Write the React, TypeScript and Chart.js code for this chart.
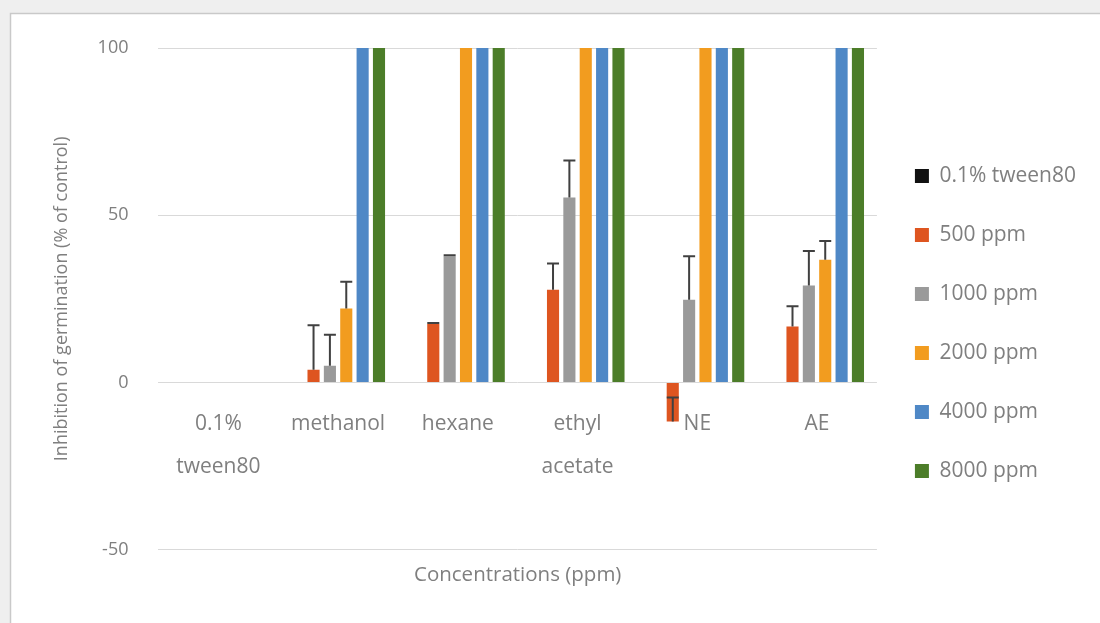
import React, { useEffect, useRef } from "react";
import { Chart, registerables } from "chart.js";

Chart.register(...registerables);

const categories: string[][] = [["0.1%", "tween80"], ["methanol"], ["hexane"], ["ethyl", "acetate"], ["NE"], ["AE"]];
const seriesNames = ["0.1% tween80", "500 ppm", "1000 ppm", "2000 ppm", "4000 ppm", "8000 ppm"];
const seriesColors = ["#111111", "#DE5520", "#9A9A9A", "#F29C1F", "#4F88C6", "#4C7D29"];

const tween80 = [0, null, null, null, null, null];
const ppm500 = [0, 3.8, 17.5, 27.7, -11.7, 16.7];
const ppm1000 = [0, 5, 37.7, 55.3, 24.7, 29];
const ppm2000 = [0, 22.1, 100, 100, 100, 36.7];
const ppm4000 = [0, 100, 100, 100, 100, 100];
const ppm8000 = [0, 100, 100, 100, 100, 100];

const err500 = [0, 13.3, 0.3, 7.9, 7.2, 6.1];
const err1000 = [0, 9.3, 0.3, 11.1, 13, 10.3];
const err2000 = [0, 8, 0, 0, 0, 5.6];
const err4000 = [0, 0, 0, 0, 0, 0];
const err8000 = [0, 0, 0, 0, 0, 0];
const errTween = [0, 0, 0, 0, 0, 0];

const yTicks = [-50, 0, 50, 100];

const FONT = "'Open Sans', 'Noto Sans', sans-serif";
const TEXT = "#7f7f7f";

const errorBarPlugin = {
  id: "errorBars",
  afterDatasetsDraw(chart: any) {
    const ctx = chart.ctx;
    const y = chart.scales.y;
    chart.data.datasets.forEach((ds: any, i: number) => {
      const meta = chart.getDatasetMeta(i);
      if (!ds.errors) return;
      meta.data.forEach((el: any, j: number) => {
        const v = ds.data[j];
        const e = ds.errors[j];
        if (v == null || !e) return;
        const y0 = y.getPixelForValue(v);
        const y1 = y.getPixelForValue(v + e);
        const half = 6;
        ctx.save();
        ctx.strokeStyle = "#404040";
        ctx.lineWidth = 2;
        ctx.beginPath();
        ctx.moveTo(el.x, y0);
        ctx.lineTo(el.x, y1);
        ctx.moveTo(el.x - half, y1);
        ctx.lineTo(el.x + half, y1);
        ctx.stroke();
        ctx.restore();
      });
    });
  },
};

const categoryLabelPlugin = {
  id: "categoryLabels",
  afterDraw(chart: any) {
    const ctx = chart.ctx;
    const x = chart.scales.x;
    const y = chart.scales.y;
    const base = y.getPixelForValue(0);
    ctx.save();
    ctx.fillStyle = TEXT;
    ctx.font = `21px ${FONT}`;
    ctx.textAlign = "center";
    ctx.textBaseline = "middle";
    (chart.data.labels as string[][]).forEach((lines, i) => {
      const px = x.getPixelForValue(i);
      lines.forEach((line, k) => {
        ctx.fillText(line, px, base + 42 + k * 43);
      });
    });
    ctx.restore();
  },
};

const framePlugin = {
  id: "frame",
  beforeDraw(chart: any) {
    const ctx = chart.ctx;
    ctx.save();
    ctx.fillStyle = "#ffffff";
    ctx.fillRect(0, 0, chart.width, chart.height);
    ctx.fillStyle = "#efefef";
    ctx.fillRect(0, 0, 10, chart.height);
    ctx.fillRect(0, 0, chart.width, 13);
    ctx.strokeStyle = "#c9c9c9";
    ctx.lineWidth = 1.5;
    ctx.beginPath();
    ctx.moveTo(10.5, chart.height);
    ctx.lineTo(10.5, 13.5);
    ctx.lineTo(chart.width, 13.5);
    ctx.stroke();
    ctx.restore();
  },
};

export default function App() {
  const ref = useRef<HTMLCanvasElement>(null);
  useEffect(() => {
    if (!ref.current) return;
    const values = [tween80, ppm500, ppm1000, ppm2000, ppm4000, ppm8000];
    const errors = [errTween, err500, err1000, err2000, err4000, err8000];
    const chart = new Chart(ref.current, {
      type: "bar",
      data: {
        labels: categories as any,
        datasets: seriesNames.map((name, i) => ({
          label: name,
          data: values[i] as any,
          errors: errors[i],
          backgroundColor: seriesColors[i],
          borderWidth: 0,
          categoryPercentage: 0.82,
          barPercentage: 0.74,
        })) as any,
      },
      options: {
        animation: false,
        responsive: false,
        maintainAspectRatio: false,
        layout: { padding: { top: 48, left: 51, right: 14, bottom: 24 } },
        plugins: {
          legend: {
            position: "right",
            labels: {
              boxWidth: 14,
              boxHeight: 14,
              padding: 38,
              color: TEXT,
              font: { family: FONT, size: 21 },
            },
          },
          tooltip: { enabled: false },
        },
        scales: {
          x: {
            grid: { display: false },
            border: { display: false },
            ticks: { display: false },
            title: {
              display: true,
              text: "Concentrations (ppm)",
              color: TEXT,
              font: { family: FONT, size: 20.5 },
              padding: { top: 5, bottom: 11.7 },
            },
          },
          y: {
            min: -50,
            max: 100,
            afterBuildTicks: (scale: any) => {
              scale.ticks = yTicks.map((v) => ({ value: v }));
            },
            grid: { color: "#d9d9d9", lineWidth: 1, drawTicks: false },
            border: { display: false },
            ticks: { color: TEXT, font: { family: FONT, size: 18 }, padding: 30 },
            title: {
              display: true,
              text: "Inhibition of germination (% of control)",
              color: TEXT,
              font: { family: FONT, size: 18 },
              padding: { top: 0, bottom: -5 },
            },
          },
        },
      },
      plugins: [framePlugin, errorBarPlugin, categoryLabelPlugin],
    });
    return () => chart.destroy();
  }, []);
  return (
    <div style={{ position: "fixed", left: 0, top: 0, width: 1100, height: 623 }}>
      <canvas ref={ref} width={1100} height={623} style={{ width: 1100, height: 623 }} />
    </div>
  );
}
